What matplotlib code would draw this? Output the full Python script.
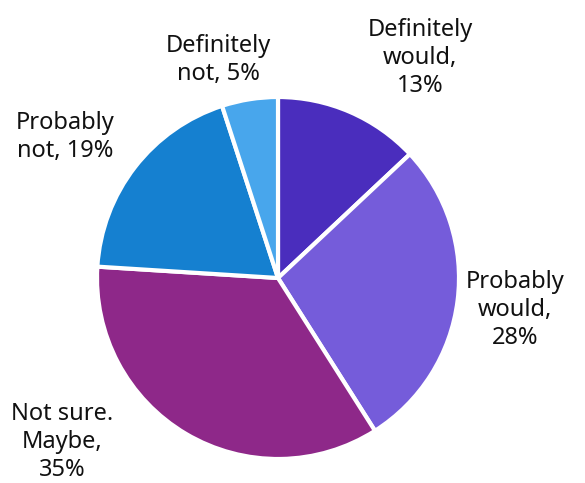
import matplotlib.pyplot as plt

categorias = ['Definitely\nwould,\n13%', 'Probably\nwould,\n28%', 'Not sure.\nMaybe,\n35%',
              'Probably\nnot, 19%', 'Definitely\nnot, 5%']
valores = [13, 28, 35, 19, 5]
cores = ['#4a2dbd', '#755cda', '#8e2889', '#1580d0', '#48a6ec']

# posicoes dos rotulos (pixels na figura, origem no topo)
pos_rotulos = [(420, 58), (515, 310), (62, 442), (65, 137), (218, 60)]

W, H = 585, 483
fig = plt.figure(figsize=(W / 100, H / 100), dpi=100)
cx, cy, R = 278, 278, 181
ax = fig.add_axes([(cx - R) / W, (H - cy - R) / H, 2 * R / W, 2 * R / H])

ax.pie(valores, colors=cores, startangle=90, counterclock=False,
       wedgeprops=dict(edgecolor='white', linewidth=3))
ax.set_xlim(-1, 1)
ax.set_ylim(-1, 1)
ax.set_aspect('equal')

for texto, (x, y) in zip(categorias, pos_rotulos):
    fig.text(x / W, 1 - y / H, texto, ha='center', va='center', fontsize=17,
             color='#111111', family='Noto Sans', linespacing=1.25)

plt.savefig('out.png', dpi=100)
plt.close()
